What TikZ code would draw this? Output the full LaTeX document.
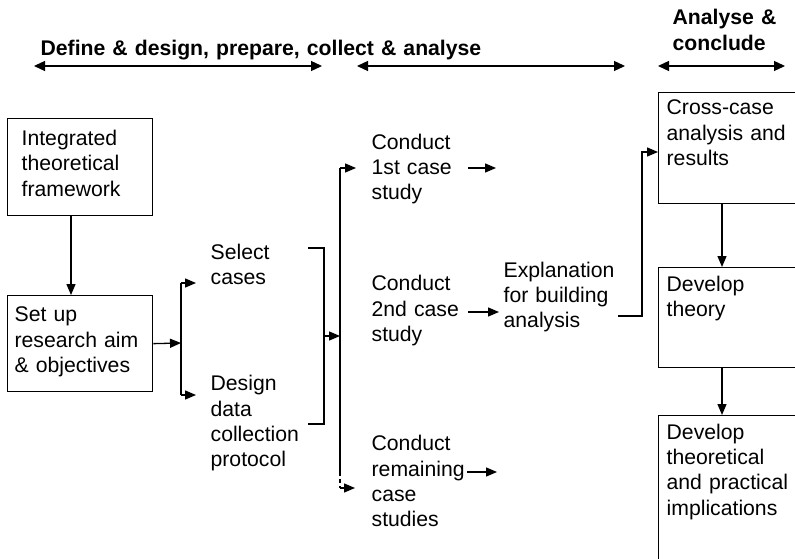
\documentclass[tikz,border=0pt]{standalone}
\usepackage{fontspec}
\setmainfont{Liberation Sans}
\usetikzlibrary{arrows.meta}
\begin{document}
\begin{tikzpicture}[x=1pt,y=-1pt,
  line width=1.3pt,
  tip/.style={-{Triangle[length=11pt,width=9pt]}},
  both/.style={{Triangle[length=11pt,width=10pt]}-{Triangle[length=11pt,width=10pt]}},
  txt/.style={anchor=base west, inner sep=0pt, text width=170pt, align=left,
    font=\fontsize{21.2}{25.3}\selectfont},
  head/.style={txt, font=\fontsize{21.2}{25.3}\selectfont\bfseries},
  stagebox/.style={draw, rectangle, inner sep=0pt, anchor=north west},
]
\useasboundingbox (0,0) rectangle (795,559);
\clip (0,0) rectangle (795,559);

% phase headings and their spans
\node[head, text width=470pt] (h1) at (40,56) {Define \& design, prepare, collect \& analyse};
\node[head] (h3) at (672,25) {Analyse \&\\conclude};
\coordinate (s1a) at (34,66);  \coordinate (s1b) at (322,66);
\coordinate (s2a) at (357,66); \coordinate (s2b) at (625,66);
\coordinate (s3a) at (658,66); \coordinate (s3b) at (785,66);
\draw[both] (s1a) -- (s1b);
\draw[both] (s2a) -- (s2b);
\draw[both] (s3a) -- (s3b);

% left column boxes
\node[stagebox, minimum width=145pt, minimum height=97pt] (b1) at (7,118) {};
\node[stagebox, minimum width=145pt, minimum height=96pt] (b2) at (7,295) {};
\node[txt] (t1) at (21,145.7) {Integrated\\theoretical\\framework};
\node[txt] (t2) at (14,321.7) {Set up\\research aim\\\& objectives};
\coordinate (colA) at (71,0);
\draw[tip] (b1.south -| colA) -- (b2.north -| colA);

% preparation steps
\node[txt] (sel) at (210,259) {Select\\cases};
\node[txt] (des) at (210,390.7) {Design\\data\\collection\\protocol};
\coordinate (fk) at (181,343);
\coordinate (fkT) at (181,283);
\coordinate (fkB) at (181,395);
\coordinate (selIn) at (196,283);
\coordinate (desIn) at (196,395);
\draw[tip] (b2.east) -- (fk);
\draw (fkT) -- (fkB);
\draw[tip] (fkT) -- (selIn);
\draw[tip] (fkB) -- (desIn);

% bracket joining the two preparation steps
\coordinate (brT) at (308,248);
\coordinate (brB) at (308,424);
\coordinate (brM) at (324,336);
\coordinate (spM) at (340,336);
\draw (brT) -| (brM) |- (brB);
\draw[tip] (brM) -- (spM);

% spine feeding the case studies
\coordinate (spT) at (340,168);
\coordinate (spD) at (340,472);
\coordinate (spB) at (340,488);
\coordinate (c1in) at (356,168);
\coordinate (c3in) at (355,488);
\draw (spT) -- (spD);
\draw[dash pattern=on 4pt off 3pt] (spD) -- (spB);
\draw[tip] (spT) -- (c1in);
\draw[tip] (spB) -- (c3in);

% case studies
\node[txt] (c1) at (371,149.3) {Conduct\\1st case\\study};
\node[txt] (c2) at (371,290.7) {Conduct\\2nd case\\study};
\node[txt] (c3) at (371,450.7) {Conduct\\remaining\\case\\studies};
\coordinate (c1o) at (468,168); \coordinate (c1e) at (496,168);
\coordinate (c2o) at (468,312); \coordinate (c2e) at (499,312);
\coordinate (c3o) at (467,472); \coordinate (c3e) at (497,472);
\draw[tip] (c1o) -- (c1e);
\draw[tip] (c2o) -- (c2e);
\draw[tip] (c3o) -- (c3e);

\node[txt] (expl) at (503,277) {Explanation\\for building\\analysis};

% right column boxes
\node[stagebox, minimum width=150pt, minimum height=111pt] (rA) at (658,92) {};
\node[stagebox, minimum width=150pt, minimum height=100pt] (rB) at (658,267) {};
\node[stagebox, minimum width=150pt, minimum height=160pt] (rC) at (658,415) {};
\node[txt] (tA) at (666,115) {Cross-case\\analysis and\\results};
\node[txt] (tB) at (666,291) {Develop\\theory};
\node[txt] (tC) at (666,439.3) {Develop\\theoretical\\and practical\\implications};

\coordinate (ex1) at (618,316);
\coordinate (exC) at (642,152);
\draw[tip] (ex1) -| (exC) -- (rA.west |- exC);

\coordinate (colR) at (722,0);
\draw[tip] (rA.south -| colR) -- (rB.north -| colR);
\draw[tip] (rB.south -| colR) -- (rC.north -| colR);
\end{tikzpicture}
\end{document}
